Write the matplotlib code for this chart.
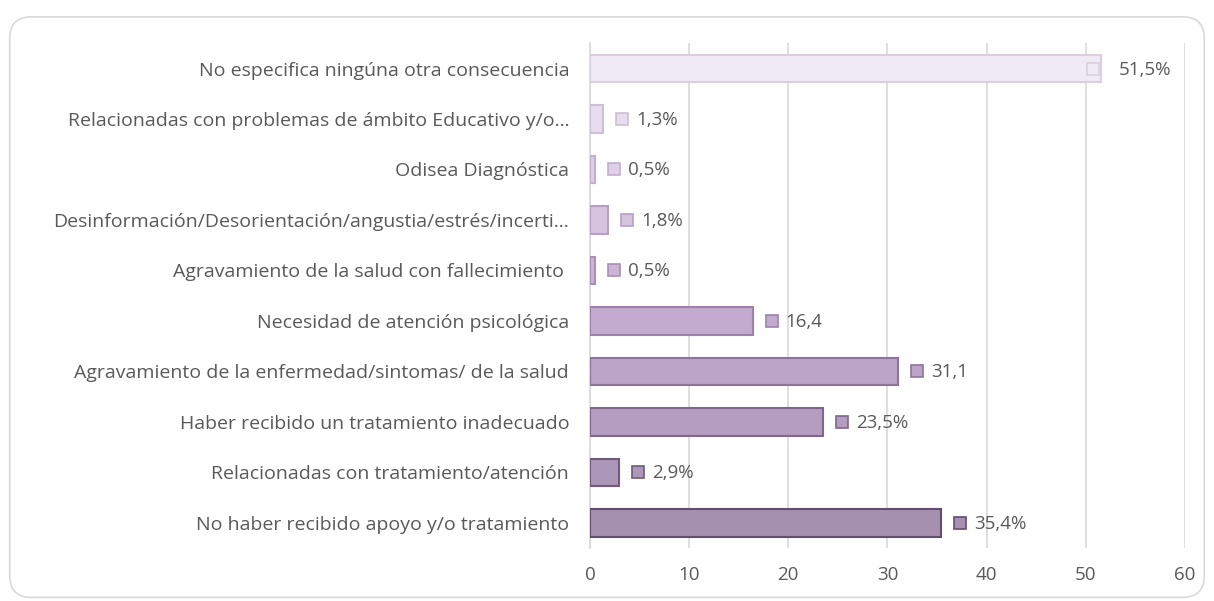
import numpy as np
import matplotlib.pyplot as plt
import matplotlib.transforms as mtransforms
from matplotlib.patches import FancyBboxPatch
from matplotlib.colors import LinearSegmentedColormap

categorias = [
    "No especifica ningúna otra consecuencia",
    "Relacionadas con problemas de ámbito Educativo y/o...",
    "Odisea Diagnóstica",
    "Desinformación/Desorientación/angustia/estrés/incerti...",
    "Agravamiento de la salud con fallecimiento ",
    "Necesidad de atención psicológica",
    "Agravamiento de la enfermedad/sintomas/ de la salud",
    "Haber recibido un tratamiento inadecuado",
    "Relacionadas con tratamiento/atención",
    "No haber recibido apoyo y/o tratamiento",
]
valores = [51.5, 1.3, 0.5, 1.8, 0.5, 16.4, 31.1, 23.5, 2.9, 35.4]
etiquetas = ["51,5%", "1,3%", "0,5%", "1,8%", "0,5%", "16,4", "31,1", "23,5%", "2,9%", "35,4%"]
ticks_x = [0, 10, 20, 30, 40, 50, 60]

plt.rcParams['font.family'] = ['Open Sans', 'DejaVu Sans']
gris = '#595959'

fig = plt.figure(figsize=(12.14, 6.01), dpi=100)
# marco redondeado
marco = FancyBboxPatch((0.008, 0.006), 0.984, 0.966, boxstyle="round,pad=0,rounding_size=0.018",
                       transform=fig.transFigure, facecolor='white', edgecolor='#d9d9d9',
                       linewidth=1.2, mutation_aspect=2.0, zorder=-10)
fig.patches.append(marco)

ax = fig.add_axes([0.486, 0.088, 0.490, 0.840])
ax.set_facecolor('none')
ax.set_zorder(5)

n = len(valores)
y = np.arange(n)[::-1]
relleno = LinearSegmentedColormap.from_list('r', ['#f0eaf4', '#c6aed3', '#a690b0'])
borde = LinearSegmentedColormap.from_list('b', ['#d9cfe0', '#a487b3', '#634e6d'])
t = np.linspace(0, 1, n)
for i in range(n):
    ax.barh(y[i], valores[i], height=0.55, color=relleno(t[i]), edgecolor=borde(t[i]),
            linewidth=1.5, zorder=3)
    if valores[i] > 45:
        off_m, off_t = -8, 18
    else:
        off_m, off_t = 19, 33
    desplaz = mtransforms.ScaledTranslation(off_m / 100, 0, fig.dpi_scale_trans)
    ax.plot([valores[i]], [y[i]], marker='s', markersize=8, markerfacecolor=relleno(t[i]),
            markeredgecolor=borde(t[i]), markeredgewidth=1.2, linestyle='none', zorder=4,
            transform=ax.transData + desplaz)
    ax.annotate(etiquetas[i], xy=(valores[i], y[i]), xytext=(off_t, -1), textcoords='offset pixels',
                va='center', ha='left', fontsize=13.5, color=gris, zorder=5)

ax.set_xlim(0, 60)
ax.set_ylim(-0.5, n - 0.5)
ax.set_xticks(ticks_x)
ax.set_xticklabels([str(v) for v in ticks_x])
ax.set_yticks(y)
ax.set_yticklabels(categorias)
ax.tick_params(axis='y', length=0, pad=15, labelsize=14, labelcolor=gris)
ax.tick_params(axis='x', length=0, pad=13, labelsize=13.5, labelcolor=gris)
ax.grid(axis='x', color='#d9d9d9', linewidth=1.2, zorder=0)
for s in ['top', 'right', 'bottom']:
    ax.spines[s].set_visible(False)
ax.spines['left'].set_color('#d9d9d9')
ax.spines['left'].set_linewidth(1.2)

fig.savefig('out.png', dpi=100)
